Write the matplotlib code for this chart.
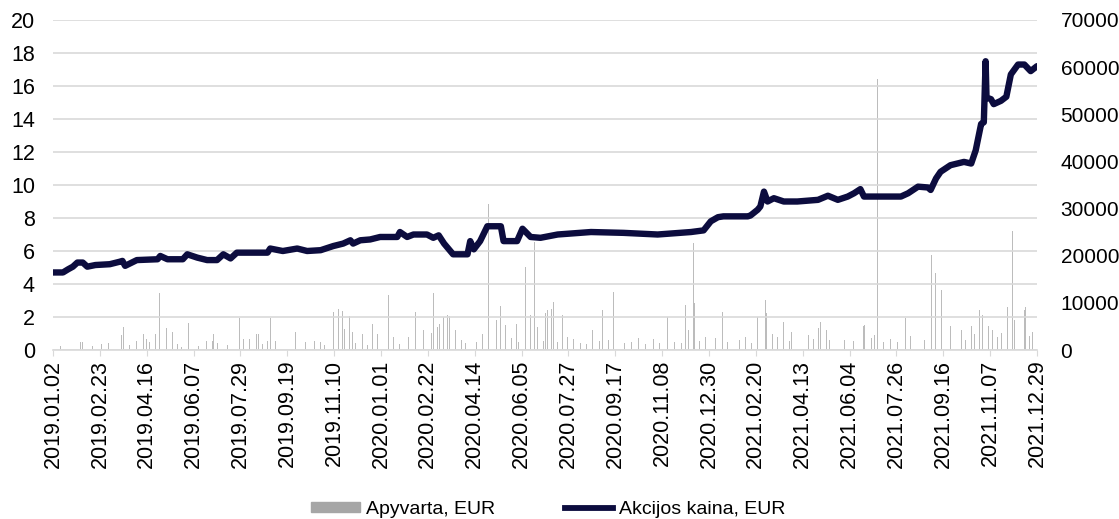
import matplotlib
matplotlib.use("Agg")
import matplotlib.pyplot as plt
from matplotlib.patches import Patch
from matplotlib.lines import Line2D
import pandas as pd

plt.rcParams['font.family'] = ['Liberation Sans', 'DejaVu Sans']

# x axis tick labels (every 52 days)
tick_labels = ["2019.01.02", "2019.02.23", "2019.04.16", "2019.06.07", "2019.07.29",
               "2019.09.19", "2019.11.10", "2020.01.01", "2020.02.22", "2020.04.14",
               "2020.06.05", "2020.07.27", "2020.09.17", "2020.11.08", "2020.12.30",
               "2021.02.20", "2021.04.13", "2021.06.04", "2021.07.26", "2021.09.16",
               "2021.11.07", "2021.12.29"]

# share price, EUR (left axis)
price_dates = [
    "2019-01-02", "2019-01-13", "2019-01-19", "2019-01-24", "2019-01-29", "2019-02-04",
    "2019-02-09", "2019-02-18", "2019-03-06", "2019-03-17", "2019-03-20", "2019-03-23",
    "2019-04-05", "2019-04-28", "2019-05-01", "2019-05-09", "2019-05-26", "2019-05-31",
    "2019-06-11", "2019-06-22", "2019-07-03", "2019-07-10", "2019-07-18", "2019-07-25",
    "2019-08-28", "2019-08-31", "2019-09-14", "2019-09-30", "2019-10-11", "2019-10-26",
    "2019-11-09", "2019-11-20", "2019-11-28", "2019-12-01", "2019-12-09", "2019-12-20",
    "2019-12-31", "2020-01-19", "2020-01-22", "2020-01-30", "2020-02-06", "2020-02-21",
    "2020-02-28", "2020-03-05", "2020-03-11", "2020-03-21", "2020-04-06", "2020-04-09",
    "2020-04-13", "2020-04-20", "2020-04-28", "2020-05-13", "2020-05-16", "2020-05-31",
    "2020-06-06", "2020-06-15", "2020-06-26", "2020-07-15", "2020-08-21", "2020-09-26",
    "2020-11-03", "2020-12-10", "2020-12-24", "2021-01-01", "2021-01-09", "2021-01-15",
    "2021-02-11", "2021-02-14", "2021-02-22", "2021-02-25", "2021-03-01", "2021-03-05",
    "2021-03-12", "2021-03-23", "2021-04-07", "2021-04-30", "2021-05-11", "2021-05-22",
    "2021-06-02", "2021-06-09", "2021-06-16", "2021-06-20", "2021-07-31", "2021-08-08",
    "2021-08-19", "2021-08-30", "2021-09-02", "2021-09-08", "2021-09-13", "2021-09-24",
    "2021-10-09", "2021-10-17", "2021-10-22", "2021-10-28", "2021-10-31", "2021-11-02",
    "2021-11-03", "2021-11-08", "2021-11-11", "2021-11-19", "2021-11-25", "2021-11-30",
    "2021-12-08", "2021-12-15", "2021-12-22", "2021-12-29"]
price_values = [
    4.7, 4.7, 4.9, 5.05, 5.3, 5.3,
    5.05, 5.15, 5.2, 5.35, 5.4, 5.1,
    5.45, 5.5, 5.7, 5.5, 5.5, 5.8,
    5.6, 5.45, 5.45, 5.8, 5.55, 5.9,
    5.9, 6.15, 6.0, 6.15, 6.0, 6.05,
    6.3, 6.45, 6.65, 6.45, 6.65, 6.7,
    6.85, 6.85, 7.15, 6.85, 7.0, 7.0,
    6.8, 6.95, 6.45, 5.8, 5.8, 6.6,
    6.1, 6.6, 7.5, 7.5, 6.6, 6.6,
    7.35, 6.85, 6.8, 7.0, 7.15, 7.1,
    7.0, 7.15, 7.25, 7.8, 8.05, 8.1,
    8.1, 8.15, 8.5, 8.7, 9.6, 9.0,
    9.2, 9.0, 9.0, 9.1, 9.35, 9.1,
    9.3, 9.5, 9.75, 9.3, 9.3, 9.5,
    9.9, 9.85, 9.7, 10.4, 10.8, 11.2,
    11.4, 11.3, 12.1, 13.7, 13.8, 17.5,
    15.3, 15.2, 14.9, 15.1, 15.35, 16.7,
    17.3, 17.3, 16.9, 17.2]

# turnover, EUR (right axis)
turnover_dates = [
    "2019-01-02", "2019-01-23", "2019-02-01", "2019-02-04", "2019-02-15", "2019-03-05",
    "2019-03-14", "2019-03-19", "2019-03-21", "2019-04-05", "2019-04-12", "2019-04-16",
    "2019-04-19", "2019-04-26", "2019-04-30", "2019-05-08", "2019-05-15", "2019-05-25",
    "2019-06-01", "2019-06-21", "2019-06-28", "2019-06-29", "2019-07-04", "2019-07-24",
    "2019-07-28", "2019-08-01", "2019-08-08", "2019-08-16", "2019-08-18", "2019-08-28",
    "2019-08-31", "2019-09-06", "2019-09-28", "2019-10-09", "2019-10-19", "2019-10-26",
    "2019-11-09", "2019-11-12", "2019-11-15", "2019-11-19", "2019-11-21", "2019-11-27",
    "2019-11-30", "2019-12-11", "2019-12-23", "2019-12-28", "2020-01-09", "2020-01-15",
    "2020-01-31", "2020-02-08", "2020-02-11", "2020-02-17", "2020-02-26", "2020-02-28",
    "2020-03-04", "2020-03-06", "2020-03-10", "2020-03-15", "2020-03-17", "2020-03-24",
    "2020-04-04", "2020-04-16", "2020-04-23", "2020-04-29", "2020-05-01", "2020-05-08",
    "2020-05-13", "2020-05-18", "2020-05-30", "2020-06-09", "2020-06-15", "2020-06-19",
    "2020-06-23", "2020-07-02", "2020-07-04", "2020-07-08", "2020-07-10", "2020-07-20",
    "2020-07-26", "2020-08-09", "2020-08-23", "2020-09-03", "2020-09-15", "2020-09-20",
    "2020-10-13", "2020-11-14", "2020-12-04", "2020-12-07", "2020-12-13", "2020-12-14",
    "2020-12-26", "2021-01-06", "2021-01-14", "2021-01-29", "2021-02-09", "2021-02-22",
    "2021-03-03", "2021-03-04", "2021-03-10", "2021-03-23", "2021-04-01", "2021-04-10",
    "2021-04-19", "2021-05-01", "2021-05-03", "2021-05-09", "2021-05-13", "2021-05-29",
    "2021-06-19", "2021-06-21", "2021-07-02", "2021-07-05", "2021-08-05", "2021-08-19",
    "2021-09-03", "2021-09-07", "2021-09-09", "2021-09-14", "2021-09-24", "2021-10-06",
    "2021-10-17", "2021-10-26", "2021-10-30", "2021-11-05", "2021-11-10", "2021-11-26",
    "2021-11-28", "2021-12-02", "2021-12-04", "2021-12-15", "2021-12-16", "2021-12-29",
    # smaller trades
    "2019-01-10", "2019-02-25", "2019-03-28", "2019-05-20", "2019-06-12", "2019-07-15",
    "2019-08-22", "2019-09-12", "2019-10-02", "2019-10-30", "2019-12-04", "2019-12-17",
    "2020-01-22", "2020-03-30", "2020-05-25", "2020-06-02", "2020-06-29", "2020-07-15",
    "2020-08-02", "2020-08-16", "2020-08-30", "2020-09-09", "2020-09-27", "2020-10-05",
    "2020-10-21", "2020-10-29", "2020-11-05", "2020-11-22", "2020-11-29", "2020-12-19",
    "2021-01-20", "2021-02-02", "2021-02-15", "2021-03-16", "2021-03-29", "2021-04-25",
    "2021-05-20", "2021-06-08", "2021-06-28", "2021-07-12", "2021-07-19", "2021-07-27",
    "2021-08-11", "2021-08-26", "2021-09-19", "2021-09-29", "2021-10-11", "2021-10-21",
    "2021-11-15", "2021-11-20", "2021-12-09", "2021-12-21", "2021-12-24"]
turnover_values = [
    3200, 4400, 1800, 1800, 800, 1500,
    3500, 3200, 4900, 1900, 3500, 2400,
    1800, 3400, 12000, 4700, 3800, 700,
    5800, 1900, 1900, 3400, 1500, 1500,
    6700, 2400, 2400, 3400, 3400, 1900,
    6700, 1900, 3800, 1800, 2000, 1800,
    8100, 2400, 8600, 8300, 4500, 7200,
    3800, 3400, 5500, 3500, 11700, 2800,
    2800, 8100, 8800, 4200, 3700, 12000,
    4900, 5600, 7100, 7400, 7200, 4200,
    1400, 1800, 3500, 31000, 7100, 6400,
    9300, 5300, 5600, 17700, 7400, 23000,
    4900, 7800, 8500, 8800, 10100, 7400,
    2800, 1400, 4200, 8500, 12400, 2800,
    2500, 6900, 9500, 4200, 22600, 9900,
    2800, 2500, 8000, 3500, 2800, 7100,
    10600, 7800, 3500, 6000, 3900, 11700,
    3200, 4600, 6000, 4200, 2100, 2100,
    5000, 5300, 3200, 57500, 6700, 6000,
    20200, 16300, 7800, 12700, 5000, 4200,
    5000, 8500, 7400, 5000, 4200, 9200,
    7100, 25300, 6400, 8500, 9200, 11500,
    900, 1200, 1000, 1300, 800, 1100,
    1200, 900, 1400, 1000, 1500, 1100,
    1300, 2200, 2600, 1800, 2000, 1600,
    2400, 1200, 1900, 2100, 1500, 1700,
    1300, 2300, 1400, 1800, 1500, 1900,
    1600, 2200, 1400, 2700, 1900, 2400,
    1500, 2000, 2600, 1700, 2300, 1800,
    2900, 2100, 3100, 2500, 2200, 3300,
    2800, 3600, 2400, 3000, 3800]

price_x = pd.to_datetime(price_dates)
turn_x = pd.to_datetime(turnover_dates)
tick_x = pd.to_datetime(tick_labels, format="%Y.%m.%d")

fig, ax = plt.subplots(figsize=(11.19, 5.19), dpi=100)
fig.subplots_adjust(left=0.0474, right=0.9267, top=0.9615, bottom=0.3256)
ax2 = ax.twinx()
ax.set_zorder(ax2.get_zorder() + 1)
ax.patch.set_visible(False)

bars = ax2.bar(turn_x, turnover_values, width=1.0, color='#bcbcbc', linewidth=0)
line, = ax.plot(price_x, price_values, color='#0c0c3e', lw=4.6,
                solid_joinstyle='round', solid_capstyle='round')

ax.set_ylim(0, 20)
ax.set_yticks(range(0, 21, 2))
ax2.set_ylim(0, 70000)
ax2.set_yticks(range(0, 70001, 10000))
ax.set_xlim(tick_x[0], tick_x[-1])
ax.set_xticks(tick_x)
ax.set_xticklabels(tick_labels, rotation=90)

ax.grid(axis='y', color='#d9d9d9', lw=1.2)
ax.set_axisbelow(True)
for a in (ax, ax2):
    for s in a.spines.values():
        s.set_visible(False)
ax.spines['bottom'].set_visible(True)
ax.spines['bottom'].set_color('#d9d9d9')
ax.spines['bottom'].set_linewidth(1.2)

ax.tick_params(axis='y', length=0, labelsize=15.5, pad=13, colors='#000000')
ax2.tick_params(axis='y', length=0, labelsize=15, pad=17)
ax.tick_params(axis='x', length=4, color='#d9d9d9', labelsize=15.5, pad=3)

handles = [Patch(color='#a6a6a6'), Line2D([], [], color='#0c0c3e', lw=4.2)]
fig.legend(handles, ["Apyvarta, EUR", "Akcijos kaina, EUR"], loc='lower center',
           bbox_to_anchor=(0.49, -0.022), ncol=2, frameon=False, fontsize=14,
           borderpad=0.15, handlelength=2.5, handleheight=0.45, handletextpad=0.3,
           columnspacing=3.6)

fig.savefig("out.png", dpi=100)
